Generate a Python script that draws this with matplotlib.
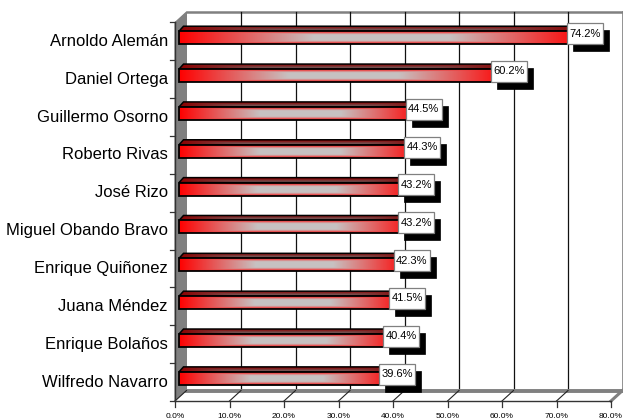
import numpy as np
import matplotlib
matplotlib.use('Agg')
import matplotlib.pyplot as plt
from matplotlib.patches import Polygon, Rectangle

plt.rcParams['font.family'] = ['Liberation Sans', 'DejaVu Sans']

# data
names = ['Arnoldo Alemán', 'Daniel Ortega', 'Guillermo Osorno', 'Roberto Rivas',
         'José Rizo', 'Miguel Obando Bravo', 'Enrique Quiñonez', 'Juana Méndez',
         'Enrique Bolaños', 'Wilfredo Navarro']
values = [74.2, 60.2, 44.5, 44.3, 43.2, 43.2, 42.3, 41.5, 40.4, 39.6]
ticks = [0, 10, 20, 30, 40, 50, 60, 70, 80]
tick_labels = [f'{t:.1f}%' for t in ticks]

# geometry (pixels -> data units)
W, H = 623, 419
px_x = 5.45          # pixels per percent
px_y = 37.85         # pixels per row
x0_px, y0_px = 175, 22.5
n = len(names)
xmax = ticks[-1]

wall_dx, wall_dy = 11.5 / px_x, -10.5 / px_y
bar_off_x, bar_off_y = 4 / px_x, -3.7 / px_y
bar_dx, bar_dy = 4.5 / px_x, -5 / px_y
bar_h = 13 / px_y

fig = plt.figure(figsize=(W / 100, H / 100), dpi=100)
ax = fig.add_axes([0, 0, 1, 1])
ax.set_axis_off()
xl = (-x0_px / px_x, (W - x0_px) / px_x)
yl = ((H - y0_px) / px_y, -y0_px / px_y)

# side wall
ax.add_patch(Polygon([(0, n), (0, 0), (wall_dx, wall_dy), (wall_dx, n + wall_dy)],
                     closed=True, fc='#808080', ec='#808080', lw=0.8, zorder=1))
# back wall
ax.add_patch(Rectangle((wall_dx, wall_dy), xmax, n, fc='white', ec='none', zorder=1))
ax.plot([wall_dx, xmax + wall_dx], [wall_dy, wall_dy], color='#808080', lw=1.8, zorder=2)
ax.plot([xmax + wall_dx, xmax + wall_dx], [wall_dy, n + wall_dy], color='#808080', lw=1.2, zorder=2)
for t in ticks[1:-1]:
    ax.plot([t + wall_dx, t + wall_dx], [wall_dy, n + wall_dy], color='#111111', lw=0.9, zorder=2)

# floor
ax.add_patch(Polygon([(0, n), (xmax, n), (xmax + wall_dx, n + wall_dy), (wall_dx, n + wall_dy)],
                     closed=True, fc='white', ec='none', zorder=1))
ax.plot([wall_dx, xmax + wall_dx], [n + wall_dy, n + wall_dy], color='#808080', lw=2.8, zorder=2)
ax.plot([xmax, xmax + wall_dx], [n, n + wall_dy], color='#808080', lw=2.2, zorder=2)
for t in ticks[:-1]:
    ax.plot([t, t + wall_dx], [n, n + wall_dy], color='#222222', lw=0.8, zorder=2)

# front axes
ax.plot([0, xmax], [n, n], color='#333333', lw=1.0, zorder=3)
ax.plot([0, 0], [0, n], color='#333333', lw=1.0, zorder=3)
for t in ticks:
    ax.plot([t, t], [n, n + 6 / px_y], color='#333333', lw=0.9, zorder=3)
for i in range(n + 1):
    ax.plot([-5 / px_x, 0], [i, i], color='#333333', lw=0.9, zorder=3)

# gradient for the bars
gx = np.linspace(-1, 1, 300)
gy = np.linspace(-1, 1, 30)
U, V = np.meshgrid(gx, gy)
w = np.clip(1.5 * (1 - np.maximum(np.abs(U), np.abs(V) ** 1.5)), 0, 1)
red = np.array([1.0, 0.0, 0.0])
gray = np.array([0.78, 0.76, 0.76])
grad = red[None, None, :] * (1 - w[..., None]) + gray[None, None, :] * w[..., None]
grad_top = grad * 0.55

for i, (name, v) in enumerate(zip(names, values)):
    yc = i + 0.5 + bar_off_y
    ytop, ybot = yc - bar_h / 2, yc + bar_h / 2
    xa, xb = bar_off_x, v + bar_off_x
    # top face
    top = Polygon([(xa, ytop), (xb, ytop), (xb + bar_dx, ytop + bar_dy), (xa + bar_dx, ytop + bar_dy)],
                  closed=True, fc='none', ec='black', lw=1.1, zorder=5)
    im = ax.imshow(grad_top, extent=[xa, xb + bar_dx, ybot, ytop + bar_dy],
                   aspect='auto', interpolation='bilinear', zorder=4)
    ax.add_patch(top)
    im.set_clip_path(top)
    # end face
    ax.add_patch(Polygon([(xb, ytop), (xb + bar_dx, ytop + bar_dy), (xb + bar_dx, ybot + bar_dy), (xb, ybot)],
                         closed=True, fc='#8a0000', ec='black', lw=1.1, zorder=5))
    # front face
    ax.imshow(grad, extent=[xa, xb, ybot, ytop], aspect='auto',
              interpolation='bilinear', zorder=6)
    ax.add_patch(Rectangle((xa, ytop), v, bar_h, fc='none', ec='black', lw=1.3, zorder=7))

    # value label with shadow
    lx, ly = v + 6 / px_x, i + 0.5 - 7.9 / px_y
    bw, bh = 36 / px_x, 21 / px_y
    ax.add_patch(Rectangle((lx - bw / 2 + 6 / px_x, ly - bh / 2 + 7 / px_y), bw, bh,
                           fc='black', ec='black', lw=0.5, zorder=8))
    ax.add_patch(Rectangle((lx - bw / 2, ly - bh / 2), bw, bh,
                           fc='white', ec='#808080', lw=0.9, zorder=9))
    ax.text(lx, ly, f'{v:.1f}%', ha='center', va='center', fontsize=8, zorder=10)

    # category label
    ax.text(-7 / px_x, i + 0.5, name, ha='right', va='center', fontsize=12, zorder=3)

for t, lab in zip(ticks, tick_labels):
    ax.text(t, n + 15 / px_y, lab, ha='center', va='center', fontsize=6, zorder=3)

ax.set_xlim(*xl)
ax.set_ylim(*yl)
fig.savefig('out.png', dpi=100)
